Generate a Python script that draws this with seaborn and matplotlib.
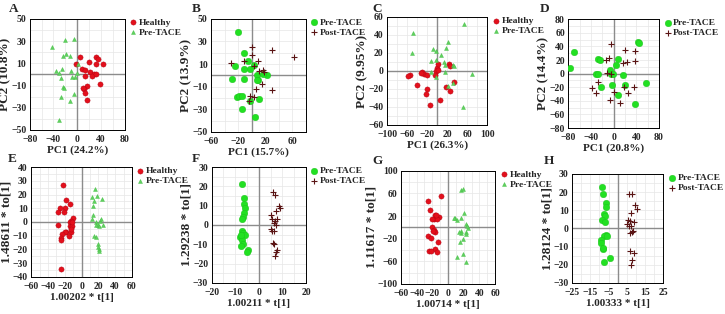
import numpy as np
import pandas as pd
import seaborn as sns
import matplotlib.pyplot as plt
from matplotlib.ticker import AutoMinorLocator

# ---- Panel A: PCA Healthy vs Pre-TACE ----
a_healthy_x = [4, 31, 35, 31, 44, -2, 20, 8, 13, 22, 28, 25, 13, 39, 16, 12, 10, 13, 17, 31]
a_healthy_y = [16, 16, 14, 9, 9, 9, 11, 5, 4, 2, 0, -1, -1, -9, -10, -13, -12, -17, -23, 0]
a_pre_x = [-43, -21, -6, -19, -12, -24, 2, -35, -26, -10, -31, -4, -8, -28, -24, -22, -28, -6, -12, -31, -1]
a_pre_y = [25, 31, 32, 18, 17, 17, 9, 3, 5, 3, 1, -2, -2, -3, -11, -12, -20, -18, -24, -41, 1]

# ---- Panel B: PCA Pre-TACE vs Post-TACE ----
b_pre_x = [-12, -5, -12, -3, -25, -29, -11, 8, 10, 8, 22, 17, -21, -18, -15, -3, 11, -15, 5, -20, 4]
b_pre_y = [20, 13, 6, 6, 8, -3, -3, 0, -4, -4, 0, 1, -19, -18, -18, -23, -21, -30, -37, 38, 9]
b_post_x = [-31, 1, 30, 63, -12, 1, 9, 3, 11, 16, 18, 15, 6, 30, -3, 4, -4]
b_post_y = [11, 25, 22, 16, 13, 18, 13, 8, 4, 5, 3, -8, -12, -13, -18, -19, -23]

# ---- Panel C: PCA Healthy vs Pre-TACE ----
c_healthy_x = [-55, -58, -30, -27, -21, -41, -21, -23, -15, 5, -1, 1, -3, -5, 23, 26, 33, 18, 25, -33, 2]
c_healthy_y = [-4, -6, -1.5, -3, -4, -16, -20, -26, -38, -32, 3, 8, 0, -4, 8, 6, -12, -18, -22, -2, 1]
c_pre_x = [-49, -51, 53, 21, -8, -2, -12, -3, 7, 18, 13, 15, 31, 33, -13, -2, 16, 22, 69, 52, 31]
c_pre_y = [42, 20, 52, 32, 24, 22, 11, 12, 18, 25, 10, 7, 7, 6, -1, -7, -1, -17, -3, -40, -13]

# ---- Panel D: PCA Pre-TACE vs Post-TACE ----
d_pre_x = [42, 44, -70, -77, -27, -24, 8, 4, -7, -32, -27, -4, -2, 17, -3, -22, 20, 7, 57, 37]
d_pre_y = [46, 45, 32, 9, 21, 20, 21, 12, 6, 0, 0, 0, -1, -2, -16, -19, -16, -32, -14, -45]
d_post_x = [-5, 20, 37, 38, 23, 16, -9, -14, -11, -4, -28, -38, -32, 18, 35, 0, 25, -7, 11]
d_post_y = [44, 35, 33, 18, 17, 15, 23, 20, 1, 0, -12, -21, -28, -19, -19, -27, -29, -39, -43]

# ---- Panel E: OPLS-DA Healthy vs Pre-TACE ----
e_healthy_x = [-22, -18, -14, -20, -26, -28, -21, -10, -12, -14, -14, -11, -28, -18, -20, -13, -12, -15, -23, -24, -25, -25, -11]
e_healthy_y = [27, 16, 13, 10, 10, 7, 7, 3, 1, 0, -3, -3, -2, -7, -7, -7, -5, -10, -9, -12, -13, -34, 0]
e_pre_x = [16, 18, 13, 24, 15, 14, 14, 13, 22, 23, 17, 19, 21, 25, 15, 17, 19, 20, 21, 21, 17]
e_pre_y = [24, 19, 18, 17, 15, 12, 5, 2, 1, 2, 0, -2, -3, -2, -10, -11, -16, -18, -20, -21, -2]

# ---- Panel F: OPLS-DA Pre-TACE vs Post-TACE ----
f_pre_x = [-7.2, -6.5, -6.2, -5.8, -6.2, -6.6, -7.2, -7.1, -6.6, -6.0, -7.9, -7.1, -6.8, -7.6, -4.4, -5.1, -7.4]
f_pre_y = [21, 14, 11, 9, 6, 4, 3, -3, -4, -5, -6, -8, -10, -11, -13, -14, -5]
f_post_x = [6.2, 6.8, 8.5, 9.0, 7.3, 5.3, 5.8, 7.8, 6.7, 6.4, 7.2, 5.2, 5.6, 6.4, 6.2, 6.4, 7.8, 7.3, 7.0]
f_post_y = [17, 15.5, 10, 9, 7, 5, 3, 3, 2, 1, 0, -2, -3, -3, -9.5, -10, -13, -14, -16]

# ---- Panel G: OPLS-DA Healthy vs Pre-TACE ----
g_healthy_x = [-9, -25, -23, -17, -12, -18, -14, -20, -21, -18, -17, -26, -22, -13, -24, -17, -14, -15, -19, -22]
g_healthy_y = [55, 47, 31, 22, 18, 14, 15, 14, 0, -4, -9, -15, -19, -26, -41, -38, -44, 22, -6, -42]
g_pre_x = [17, 19, 20, 9, 7, 23, 17, 26, 24, 17, 16, 23, 23, 14, 19, 15, 19, 11, 23, 11]
g_pre_y = [66, 67, 25, 16, 17, 6, 17, -1, 2, -6, -10, -9, -12, -9, -20, -26, -47, -52, -62, 13]

# ---- Panel H: OPLS-DA Pre-TACE vs Post-TACE ----
h_pre_x = [-8.5, -7.8, -6.4, -6.4, -7.6, -7.1, -8.4, -7.1, -6.4, -7.6, -8.9, -9.3, -7.8, -8.3, -4.4, -7.3, -5.8]
h_pre_y = [22.7, 18.8, 14, 11.7, 8, 7, 4.4, 3.3, -3.5, -4.2, -6.6, -7.9, -11.3, -11, -16.3, -18.5, -4]
h_post_x = [6.4, 8.0, 9.6, 10.7, 7.1, 5.6, 6.5, 9.1, 5.0, 6.2, 7.3, 8.3, 6.9, 7.8, 6.5, 8.9, 8.0, 7.1]
h_post_y = [18.8, 18.8, 13, 10.8, 8.6, 4.4, 4, 3.3, 2.7, 1.6, 1.6, -1.3, -2.6, -2.2, -12.4, -13.7, -17.4, -20]

STYLES = {
    'Healthy': dict(color='#e3101c', marker='o', s=14, edgecolor='#b00010', linewidth=0.3),
    'Pre-TACE tri': dict(color='#5fcf5f', marker='^', s=8, edgecolor='#3fbf3f', linewidth=0.3),
    'Pre-TACE': dict(color='#22e022', marker='o', s=22, edgecolor='#18c018', linewidth=0.3),
    'Post-TACE': dict(color='#5a1414', marker='+', s=14, linewidth=0.8),
}

sns.set_style('white')
plt.rcParams['font.family'] = ['Liberation Serif', 'DejaVu Serif']
plt.rcParams['font.weight'] = 'bold'
plt.rcParams['axes.labelweight'] = 'bold'


def panel(ax, groups, xlim, xticks, ylim, yticks, xlabel, ylabel):
    for label, xs, ys, key in groups:
        df = pd.DataFrame({'x': xs, 'y': ys})
        sns.scatterplot(data=df, x='x', y='y', ax=ax, label=label, zorder=3, **STYLES[key])
    ax.set_xlim(*xlim)
    ax.set_ylim(*ylim)
    ax.set_xticks(xticks)
    ax.set_yticks(yticks)
    ax.xaxis.set_minor_locator(AutoMinorLocator(2))
    ax.yaxis.set_minor_locator(AutoMinorLocator(2))
    ax.grid(True, which='both', color='#e6e6e6', linewidth=0.5, zorder=0)
    ax.axhline(0, color='#8c8c8c', linewidth=1.0, zorder=1)
    ax.axvline(0, color='#8c8c8c', linewidth=1.0, zorder=1)
    ax.set_xlabel(xlabel, fontsize=8, fontweight='bold', labelpad=1)
    ax.set_ylabel(ylabel, fontsize=9.5, fontweight='bold', labelpad=0)
    ax.tick_params(axis='both', labelsize=7, length=2, width=0.6, pad=0.5, direction='out')
    ax.tick_params(axis='x', pad=1.8)
    for lab in ax.get_xticklabels() + ax.get_yticklabels():
        lab.set_fontweight('bold')
    for sp in ax.spines.values():
        sp.set_visible(True)
        sp.set_color('black')
        sp.set_linewidth(0.7)
    ax.legend(loc='upper left', bbox_to_anchor=(1.0, 1.03), frameon=False,
              handletextpad=0.0, borderaxespad=0.2,
              labelspacing=0.15, handlelength=1.2, borderpad=0.1,
              prop={'weight': 'bold', 'size': 6.8})


fig = plt.figure(figsize=(7.25, 3.14), dpi=100)

axA = fig.add_axes([0.041, 0.586, 0.131, 0.354])
axB = fig.add_axes([0.291, 0.580, 0.131, 0.360])
axC = fig.add_axes([0.534, 0.602, 0.138, 0.344])
axD = fig.add_axes([0.784, 0.592, 0.125, 0.347])
axE = fig.add_axes([0.043, 0.118, 0.139, 0.350])
axF = fig.add_axes([0.292, 0.099, 0.130, 0.369])
axG = fig.add_axes([0.553, 0.096, 0.130, 0.360])
axH = fig.add_axes([0.789, 0.099, 0.126, 0.347])

panel(axA, [('Healthy', a_healthy_x, a_healthy_y, 'Healthy'),
            ('Pre-TACE', a_pre_x, a_pre_y, 'Pre-TACE tri')],
      (-80, 80), [-80, -40, 0, 40, 80], (-50, 50), [-50, -30, -10, 10, 30, 50],
      'PC1 (24.2%)', 'PC2 (10.8%)')
panel(axB, [('Pre-TACE', b_pre_x, b_pre_y, 'Pre-TACE'),
            ('Post-TACE', b_post_x, b_post_y, 'Post-TACE')],
      (-60, 80), [-60, -20, 20, 60], (-50, 50), [-50, -30, -10, 10, 30, 50],
      'PC1 (15.7%)', 'PC2 (13.9%)')
panel(axC, [('Healthy', c_healthy_x, c_healthy_y, 'Healthy'),
            ('Pre-TACE', c_pre_x, c_pre_y, 'Pre-TACE tri')],
      (-100, 100), [-100, -60, -20, 20, 60, 100], (-60, 60), [-60, -40, -20, 0, 20, 40, 60],
      'PC1 (26.3%)', 'PC2 (9.95%)')
panel(axD, [('Pre-TACE', d_pre_x, d_pre_y, 'Pre-TACE'),
            ('Post-TACE', d_post_x, d_post_y, 'Post-TACE')],
      (-80, 80), [-80, -40, 0, 40, 80], (-80, 80), list(range(-80, 81, 20)),
      'PC1 (20.8%)', 'PC2 (14.4%)')
panel(axE, [('Healthy', e_healthy_x, e_healthy_y, 'Healthy'),
            ('Pre-TACE', e_pre_x, e_pre_y, 'Pre-TACE tri')],
      (-60, 60), list(range(-60, 61, 20)), (-40, 40), list(range(-40, 41, 10)),
      '1.00202 * t[1]', '1.48611 * to[1]')
panel(axF, [('Pre-TACE', f_pre_x, f_pre_y, 'Pre-TACE'),
            ('Post-TACE', f_post_x, f_post_y, 'Post-TACE')],
      (-20, 20), [-20, -10, 0, 10, 20], (-30, 30), list(range(-30, 31, 10)),
      '1.00211 * t[1]', '1.29238 * to[1]')
panel(axG, [('Healthy', g_healthy_x, g_healthy_y, 'Healthy'),
            ('Pre-TACE', g_pre_x, g_pre_y, 'Pre-TACE tri')],
      (-60, 60), list(range(-60, 61, 20)), (-100, 100), [-100, -60, -20, 20, 60, 100],
      '1.00714 * t[1]', '1.11617 * to[1]')
panel(axH, [('Pre-TACE', h_pre_x, h_pre_y, 'Pre-TACE'),
            ('Post-TACE', h_post_x, h_post_y, 'Post-TACE')],
      (-25, 25), [-25, -15, -5, 5, 15, 25], (-30, 30), list(range(-30, 31, 10)),
      '1.00333 * t[1]', '1.28124 * to[1]')

letters = {'A': (0.012, 0.953), 'B': (0.265, 0.953), 'C': (0.513, 0.953), 'D': (0.744, 0.953),
           'E': (0.011, 0.474), 'F': (0.265, 0.474), 'G': (0.513, 0.468), 'H': (0.750, 0.468)}
for k, (x, y) in letters.items():
    fig.text(x, y, k, fontsize=9.5, fontweight='bold', ha='left', va='bottom')

fig.savefig('out.png', dpi=100)
